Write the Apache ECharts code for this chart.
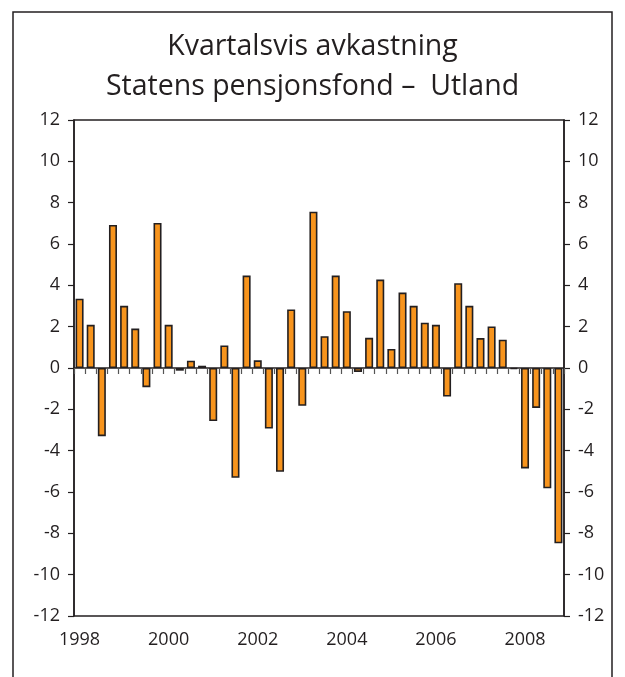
<!DOCTYPE html>
<html>
<head>
<meta charset="utf-8">
<script src="https://cdn.jsdelivr.net/npm/echarts@6/dist/echarts.min.js"></script>
<style>
html,body{margin:0;padding:0;background:#fff;}
#chart{width:625px;height:677px;}
</style>
</head>
<body>
<div id="chart"></div>
<script>
var titleLines = ["Kvartalsvis avkastning", "Statens pensjonsfond \u2013  Utland"];
var years = ["1998","1999","2000","2001","2002","2003","2004","2005","2006","2007","2008"];
var quarters = ["Q1","Q2","Q3","Q4"];
var returns = [
  3.35, 2.09, -3.30, 6.92,
  3.01, 1.91, -0.93, 7.02,
  2.09, -0.13, 0.35, 0.11,
  -2.57, 1.09, -5.31, 4.47,
  0.37, -2.93, -5.02, 2.83,
  -1.83, 7.56, 1.54, 4.47,
  2.75, -0.19, 1.46, 4.28,
  0.92, 3.65, 3.01, 2.19,
  2.09, -1.38, 4.10, 3.01,
  1.45, 2.01, 1.37, -0.05,
  -4.86, -1.93, -5.82, -8.48
];
var yTicks = [-12,-10,-8,-6,-4,-2,0,2,4,6,8,10,12];

var categories = [];
years.forEach(function(y){ quarters.forEach(function(q){ categories.push(y + " " + q); }); });

var font = "Open Sans";
var ink = "#231F20";
var chart = echarts.init(document.getElementById('chart'), null, {renderer:'canvas'});

function yAxisDef(pos){
  return {
    type:'value', position:pos, min:yTicks[0], max:yTicks[yTicks.length-1], interval:2,
    axisLine:{show:true, lineStyle:{color:ink, width:1.5}},
    axisTick:{show:true, length:6, lineStyle:{color:ink, width:1.2}},
    axisLabel:{show:true, margin:14, color:ink, fontSize:18, fontFamily:font},
    splitLine:{show:false}
  };
}

chart.setOption({
  animation:false,
  backgroundColor:'#fff',
  title:{
    text: titleLines.join("\n"),
    left:'center', top:22,
    textStyle:{fontFamily:font, fontSize:28.5, fontWeight:'normal', color:ink, lineHeight:40}
  },
  graphic:[{
    type:'rect', shape:{x:13, y:12, width:599, height:700},
    style:{fill:'none', stroke:ink, lineWidth:1.5}, silent:true
  }],
  grid:{left:74, right:61, top:120, bottom:61, show:true, borderColor:ink, borderWidth:1.5, backgroundColor:'transparent'},
  xAxis:[{
    type:'category', data:categories, boundaryGap:true,
    axisLine:{show:true, onZero:true, lineStyle:{color:ink, width:1.5}},
    axisTick:{show:true, interval:0, length:6, lineStyle:{color:'#555', width:1.2}},
    axisLabel:{show:false}, splitLine:{show:false}
  },{
    type:'category', data:categories, boundaryGap:true, position:'bottom',
    axisLine:{show:false, onZero:false}, axisTick:{show:false},
    axisLabel:{show:true, interval:7, margin:15, color:ink, fontSize:18, fontFamily:font,
      formatter:function(v){ return v.split(" ")[0]; }},
    splitLine:{show:false}
  }],
  yAxis:[yAxisDef('left'), yAxisDef('right')],
  series:[{
    type:'bar', data:returns, xAxisIndex:0, yAxisIndex:0,
    barCategoryGap:'28%',
    itemStyle:{color:'#F7941D', borderColor:ink, borderWidth:1.6}
  }]
});
</script>
</body>
</html>
